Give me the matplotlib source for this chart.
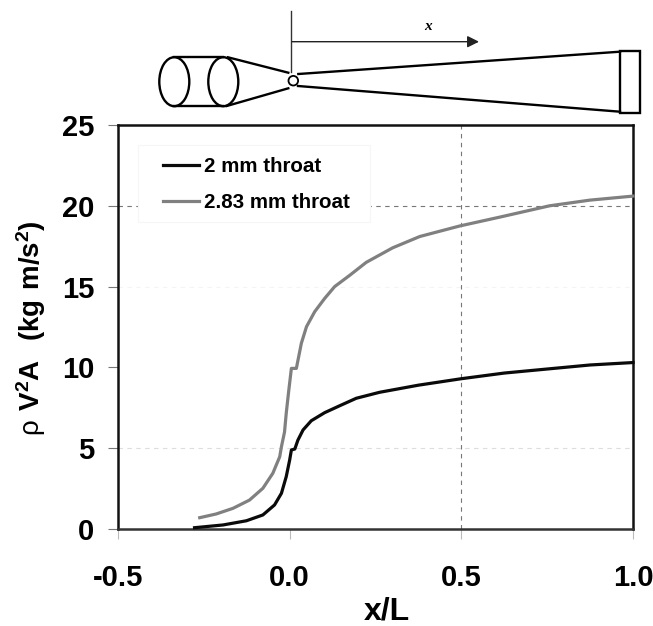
import matplotlib as mpl
mpl.use('Agg')
from matplotlib import pyplot as plt
from matplotlib.patches import Ellipse, Rectangle, Circle
import numpy as np

# throat curves
x_2mm = np.array([-0.277, -0.194, -0.126, -0.078, -0.044, -0.024, -0.01, 0.0, 0.005, 0.015, 0.024,
                  0.039, 0.063, 0.102, 0.146, 0.194, 0.262, 0.375, 0.5, 0.625, 0.75, 0.875, 1.0])
y_2mm = np.array([0.08, 0.25, 0.51, 0.87, 1.49, 2.21, 3.24, 4.27, 4.89, 4.95, 5.5,
                  6.13, 6.70, 7.20, 7.63, 8.09, 8.46, 8.90, 9.30, 9.65, 9.90, 10.15, 10.30])
x_283mm = np.array([-0.262, -0.214, -0.165, -0.117, -0.078, -0.049, -0.029, -0.024, -0.015, -0.01,
                    -0.003, 0.005, 0.0195, 0.034, 0.049, 0.073, 0.102, 0.131, 0.175, 0.223,
                    0.30, 0.379, 0.495, 0.612, 0.757, 0.874, 1.0])
y_283mm = np.array([0.70, 0.93, 1.28, 1.79, 2.52, 3.45, 4.47, 5.09, 6.0, 7.16,
                    8.5, 9.94, 9.94, 11.49, 12.52, 13.45, 14.27, 15.0, 15.7, 16.5,
                    17.4, 18.1, 18.75, 19.3, 20.0, 20.35, 20.6])

xticks = [-0.5, 0.0, 0.5, 1.0]
yticks = [0, 5, 10, 15, 20, 25]

mpl.rcParams.update({
    "font.family": "Liberation Sans",
    "font.weight": "bold",
    "mathtext.fontset": "custom",
    "mathtext.rm": "Liberation Sans:regular",
    "mathtext.bf": "Liberation Sans:bold",
})

W, H = 653, 626
fig = plt.figure(figsize=(W/100, H/100), dpi=100, facecolor='w')
ax = fig.add_axes([118/W, 1-529/H, 515/W, 404/H])

# faint grid, only some of the lines show in the original
ax.axhline(20, color='#777777', lw=0.8, ls=(0, (4, 4)), zorder=1)
ax.axhline(15, color='#f4f4f4', lw=0.8, ls=(0, (4, 4)), zorder=1)
ax.axhline(5, color='#dddddd', lw=0.8, ls=(0, (4, 4)), zorder=1)
ax.axvline(0.5, color='#777777', lw=0.8, ls=(0, (4, 4)), zorder=1)

# legend sits on a white box that hides the grid line
ax.add_patch(Rectangle((0.039, 0.76), 0.45, 0.19, transform=ax.transAxes,
                       fc='w', ec='#f6f6f6', lw=0.8, zorder=2))

ax.plot(x_2mm, y_2mm, color='#0a0a0a', lw=2.3, label='2 mm throat', zorder=3, clip_on=False)
ax.plot(x_283mm, y_283mm, color='#808080', lw=2.3, label='2.83 mm throat', zorder=3, clip_on=False)

ax.set_xlim(-0.5, 1.0)
ax.set_ylim(0, 25)
ax.set_xticks(xticks)
ax.set_xticklabels(['%.1f' % t for t in xticks])
ax.set_yticks(yticks)
ax.tick_params(axis='x', labelsize=21, length=7, width=0.8, color='#bbbbbb', pad=18)
ax.tick_params(axis='y', labelsize=21, length=7, width=0.8, color='#777777', pad=10)
for s in ax.spines.values():
    s.set_linewidth(1.8)
    s.set_color('#111111')
ax.spines['bottom'].set_color('#333333')

fig.text(387/W, 1-611/H, 'x/L', fontsize=23, ha='center', va='center')
fig.text(31/W, 1-328/H, r'$\mathrm{\rho}\ \mathbf{V^2A\ \ (kg\ m/s^2)}$', fontsize=20,
         rotation=90, ha='center', va='center')

leg = ax.legend(loc='upper left', bbox_to_anchor=(0.087, 0.92), frameon=False, fontsize=14.8,
                handlelength=1.75, handletextpad=0.25, labelspacing=0.8, borderpad=0, borderaxespad=0)
leg.set_zorder(4)

# nozzle sketch above the plot, in pixel coordinates of the picture
sk = fig.add_axes([0, 0, 1, 1], facecolor='none')
sk.set_xlim(0, W)
sk.set_ylim(H, 0)
sk.axis('off')
lw = 1.7
for cx in (174.3, 223.3):
    sk.add_patch(Ellipse((cx, 81.7), 30, 49, fill=False, ec='k', lw=lw))
sk.plot([174, 223], [57.3, 57.3], 'k', lw=lw)
sk.plot([174, 223], [106, 106], 'k', lw=lw)
sk.plot([228, 288.3], [57.3, 72.7], 'k', lw=lw)
sk.plot([226.7, 288.3], [106, 88.3], 'k', lw=lw)
sk.add_patch(Circle((293.3, 80.7), 4.8, fill=False, ec='k', lw=1.3))
sk.plot([298.3, 620], [74, 51.7], 'k', lw=lw)
sk.plot([298, 620], [86, 111.7], 'k', lw=lw)
sk.add_patch(Rectangle((620, 50.7), 20, 62, fill=False, ec='k', lw=lw))
sk.plot([290.7, 290.7], [11, 72], color='#333333', lw=1)
sk.annotate('', xy=(479, 41.7), xytext=(292, 41.7),
            arrowprops=dict(arrowstyle='-|>,head_length=0.7,head_width=0.35', color='#222222', lw=1, shrinkA=0, shrinkB=0))
sk.text(428, 27, 'x', family='Liberation Serif', style='italic', weight='bold', fontsize=11, ha='center', va='center')

plt.savefig('out.png', dpi=100)
